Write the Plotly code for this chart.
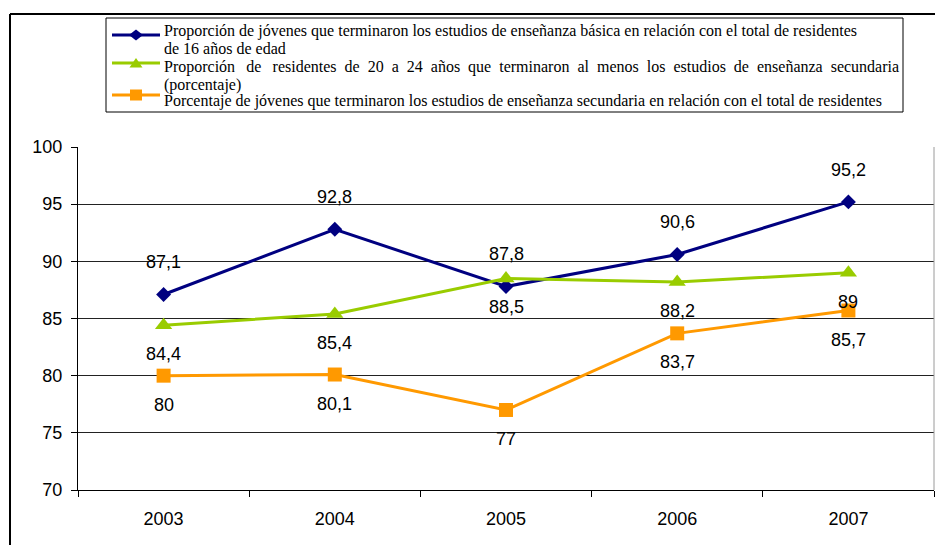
import plotly.graph_objects as go

# Indicator values by school year
years = ["2003", "2004", "2005", "2006", "2007"]
basica_16 = [87.1, 92.8, 87.8, 90.6, 95.2]
secundaria_20_24 = [84.4, 85.4, 88.5, 88.2, 89]
secundaria_total = [80, 80.1, 77, 83.7, 85.7]

NB = "\u00a0"
THIN = "\u2009"


def spread(sentence, extra_gaps=2):
    # widen word gaps so the line fills the legend width
    words = sentence.split(" ")
    out = words[0]
    for k, w in enumerate(words[1:]):
        gap = " " + NB + (THIN if k < extra_gaps else "")
        out += gap + w
    return out


legend_lines = [
    ["Proporción de jóvenes que terminaron los estudios de enseñanza básica en relación con el total de residentes",
     "de 16 años de edad"],
    [spread("Proporción de residentes de 20 a 24 años que terminaron al menos los estudios de enseñanza secundaria"),
     "(porcentaje)"],
    ["Porcentaje de jóvenes que terminaron los estudios de enseñanza secundaria en relación con el total de residentes"],
]

series = [
    ("Básica, 16 años", basica_16, "#000080", "diamond", 11.5, 32),
    ("Secundaria, 20-24 años", secundaria_20_24, "#99CC00", "triangle-up", 15, -29),
    ("Secundaria, total", secundaria_total, "#FF9900", "square", 14, -29),
]

fig = go.Figure()
annotations = []
for name, vals, color, symbol, msize, shift in series:
    fig.add_trace(go.Scatter(
        x=years, y=vals, name=name, mode="lines+markers",
        line=dict(color=color, width=3),
        marker=dict(symbol=symbol, size=msize, color=color),
        showlegend=False,
    ))
    for i, v in enumerate(vals):
        annotations.append(dict(
            x=i, y=v, xref="x", yref="y", text=f"{v:g}".replace(".", ","),
            showarrow=False, yshift=shift,
            font=dict(family="Liberation Sans", size=18, color="black"),
        ))

# plot area in pixels: x 78..934, y 147..490
L, R, T, B = 78, 934, 147, 490
def px(xp):
    return (xp - L) / (R - L)
def py(yp):
    return (B - yp) / (B - T)

shapes = [
    # outer frame (top and left edges)
    dict(type="line", xref="paper", yref="paper", x0=px(10), x1=px(936), y0=py(14), y1=py(14),
         line=dict(color="black", width=2)),
    dict(type="line", xref="paper", yref="paper", x0=px(10), x1=px(10), y0=py(14), y1=py(547),
         line=dict(color="black", width=2)),
    # right edge of plot area
    dict(type="line", xref="paper", yref="paper", x0=1, x1=1, y0=0, y1=1,
         line=dict(color="#9a9a9a", width=1)),
    # legend box
    dict(type="rect", xref="paper", yref="paper", x0=px(106), x1=px(903), y0=py(18), y1=py(112),
         line=dict(color="black", width=1)),
]

# legend keys: sample line plus marker glyph
def key_path(kind, cx, cy):
    if kind == "diamond":
        pts = [(cx - 7, cy), (cx, cy - 5.5), (cx + 7, cy), (cx, cy + 5.5)]
    elif kind == "triangle-up":
        pts = [(cx - 6.5, cy + 4.5), (cx, cy - 5), (cx + 6.5, cy + 4.5)]
    else:
        pts = [(cx - 6, cy - 5.5), (cx + 6, cy - 5.5), (cx + 6, cy + 5.5), (cx - 6, cy + 5.5)]
    return "M " + " L ".join(f"{px(a):.5f},{py(b):.5f}" for a, b in pts) + " Z"

key_rows = [35, 63, 95]
for (name, vals, color, symbol, msize, shift), ky in zip(series, key_rows):
    shapes.append(dict(type="line", xref="paper", yref="paper", x0=px(112), x1=px(160),
                       y0=py(ky), y1=py(ky), line=dict(color=color, width=3)))
    shapes.append(dict(type="path", xref="paper", yref="paper", path=key_path(symbol, 136, ky),
                       fillcolor=color, line=dict(color=color, width=0)))

text_rows = [[31, 48], [67, 85], [101]]
for lines, rows in zip(legend_lines, text_rows):
    for txt, ty in zip(lines, rows):
        annotations.append(dict(
            x=px(162), y=py(ty), xref="paper", yref="paper", xanchor="left", yanchor="middle",
            text=txt, showarrow=False,
            font=dict(family="Liberation Serif", size=16, color="black"),
        ))

fig.update_layout(
    width=935, height=545,
    margin=dict(l=L, r=935 - R, t=T, b=545 - B),
    paper_bgcolor="white", plot_bgcolor="white",
    showlegend=False,
    xaxis=dict(
        type="category", range=[-0.5, 4.5], showgrid=False, showline=True, linecolor="black", linewidth=1,
        ticks="outside", tickson="boundaries", ticklen=6, tickcolor="black",
        tickfont=dict(family="Liberation Sans", size=18, color="black"),
        ticklabelstandoff=12,
    ),
    yaxis=dict(
        range=[70, 100], dtick=5, showgrid=True, gridcolor="#222222", gridwidth=1,
        showline=True, linecolor="black", linewidth=1, zeroline=False,
        ticks="outside", ticklen=6, tickcolor="black",
        tickfont=dict(family="Liberation Sans", size=18, color="black"),
        ticklabelstandoff=5,
    ),
    shapes=shapes,
    annotations=annotations,
)

fig.write_html("out.html")
